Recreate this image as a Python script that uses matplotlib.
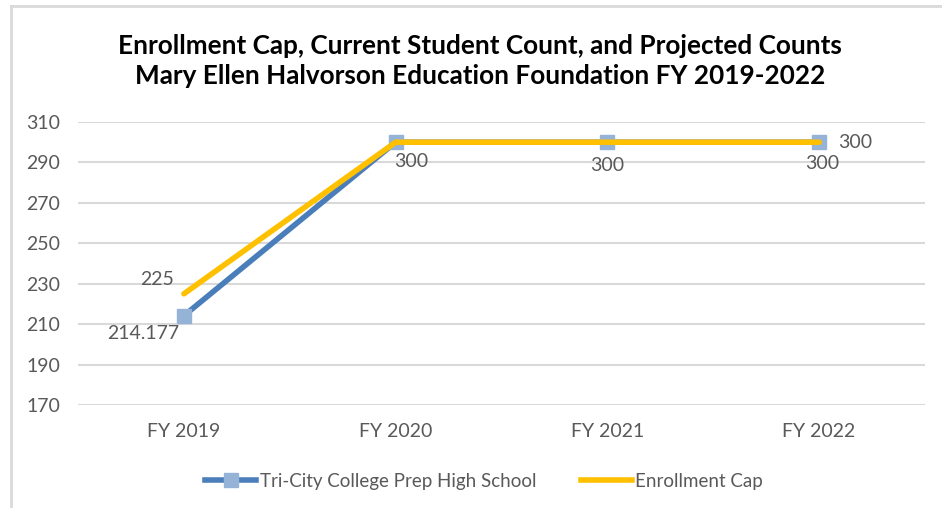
import matplotlib
matplotlib.use('Agg')
import matplotlib.pyplot as plt
from matplotlib.lines import Line2D

# data
years = ['FY 2019', 'FY 2020', 'FY 2021', 'FY 2022']
school = [214.177, 300, 300, 300]
cap = [225, 300, 300, 300]
y_ticks = [170, 190, 210, 230, 250, 270, 290, 310]

plt.rcParams['font.family'] = ['Lato', 'DejaVu Sans']
grey = '#595959'
blue = '#4A7EBB'
light_blue = '#95B3D7'
yellow = '#FFC000'

fig = plt.figure(figsize=(9.42, 5.08), dpi=100)
ax = fig.add_axes([78/942, 1 - 405/508, 847/942, 283/508])

x = range(len(years))
ax.plot(x, school, color=blue, lw=4, marker='s', ms=10,
        mfc=light_blue, mec=light_blue, zorder=3, solid_capstyle='round')
ax.plot(x, cap, color=yellow, lw=4, zorder=4, solid_capstyle='round')

# data labels (offsets in points)
school_offsets = [(-29, -13), (11.5, -14), (0, -17), (2, -15)]
for i in range(len(years)):
    ax.annotate(f'{school[i]:g}', (i, school[i]), xytext=school_offsets[i],
                textcoords='offset points', ha='center', va='center', fontsize=14, color=grey)
ax.annotate(f'{cap[0]:g}', (0, cap[0]), xytext=(-19, 10),
            textcoords='offset points', ha='center', va='center', fontsize=14, color=grey)
ax.annotate(f'{cap[3]:g}', (3, cap[3]), xytext=(26, 0),
            textcoords='offset points', ha='center', va='center', fontsize=14, color=grey)

ax.set_xlim(-0.5, 3.5)
ax.set_ylim(170, 310)
ax.set_yticks(y_ticks)
ax.set_xticks(list(x))
ax.set_xticklabels(years)
ax.tick_params(length=0, labelsize=14, colors=grey)
ax.tick_params(axis='x', pad=13)
ax.tick_params(axis='y', pad=13)
ax.grid(axis='y', color='#D9D9D9', lw=1.5)
ax.set_axisbelow(True)
for s in ax.spines.values():
    s.set_visible(False)

fig.text(0.51, 1 - 61/508, 'Enrollment Cap, Current Student Count, and Projected Counts\n'
         'Mary Ellen Halvorson Education Foundation FY 2019-2022',
         ha='center', va='center', fontsize=18.8, fontweight='bold', linespacing=1.25)

handles = [Line2D([], [], color=blue, lw=4, marker='s', ms=10, mfc=light_blue, mec=light_blue),
           Line2D([], [], color=yellow, lw=4)]
fig.legend(handles, ['Tri-City College Prep High School', 'Enrollment Cap'],
           loc='center', bbox_to_anchor=(0.514, 1 - 481/508), ncol=2, frameon=False,
           fontsize=13.5, labelcolor=grey, handlelength=2.7, handletextpad=0.2, columnspacing=2.4)

# chart border
fig.add_artist(Line2D([11/942, 11/942], [0, 1 - 6/508], color='#D9D9D9', lw=2))
fig.add_artist(Line2D([11/942, 1], [1 - 6/508, 1 - 6/508], color='#D9D9D9', lw=2))

fig.savefig('out.png', dpi=100)
